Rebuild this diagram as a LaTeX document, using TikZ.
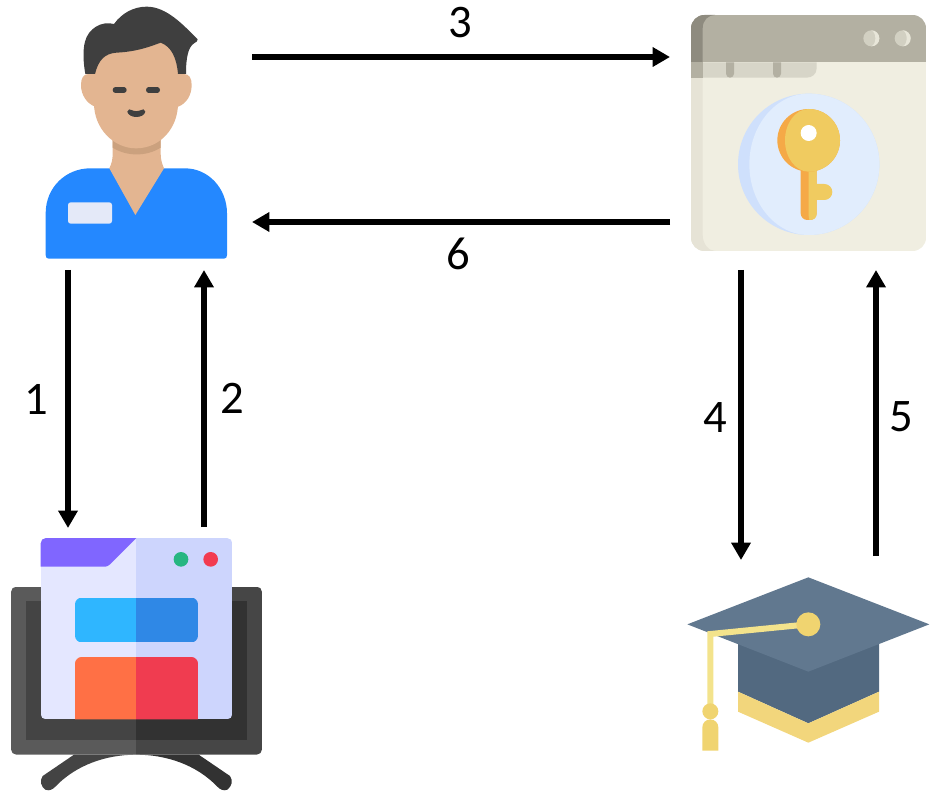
\documentclass[tikz,border=0pt]{standalone}
\usepackage{fontspec}
\setmainfont{Carlito}
\usetikzlibrary{arrows.meta}
\definecolor{skin}{HTML}{E3B591}
\definecolor{skinD}{HTML}{CBA17E}
\definecolor{hair}{HTML}{3F3F3F}
\definecolor{shirt}{HTML}{2488FF}
\definecolor{badge}{HTML}{E4E9F8}
\definecolor{kBar}{HTML}{B3B0A2}
\definecolor{kBarD}{HTML}{8E8B7F}
\definecolor{kBody}{HTML}{F0EEE1}
\definecolor{kBodyD}{HTML}{E6E3D6}
\definecolor{kTab}{HTML}{D7D5C8}
\definecolor{kBtn}{HTML}{E8E6D9}
\definecolor{kBtnD}{HTML}{D2D0C2}
\definecolor{discD}{HTML}{CFE0FC}
\definecolor{disc}{HTML}{E1EDFD}
\definecolor{keyD}{HTML}{F5A947}
\definecolor{keyL}{HTML}{F0CB60}
\definecolor{monL}{HTML}{5A5A5A}
\definecolor{monR}{HTML}{464646}
\definecolor{scrL}{HTML}{444444}
\definecolor{scrR}{HTML}{323232}
\definecolor{winL}{HTML}{E4E7FF}
\definecolor{winR}{HTML}{CDD5FD}
\definecolor{tabP}{HTML}{8066FF}
\definecolor{btnG}{HTML}{26B681}
\definecolor{btnR}{HTML}{F23B50}
\definecolor{blueL}{HTML}{2FB6FF}
\definecolor{blueR}{HTML}{2F88E6}
\definecolor{redL}{HTML}{FF7045}
\definecolor{redR}{HTML}{F03C50}
\definecolor{capTop}{HTML}{61788F}
\definecolor{capBody}{HTML}{526980}
\definecolor{capBand}{HTML}{F2D67C}
\definecolor{capCord}{HTML}{F3E38C}
\definecolor{capKnob}{HTML}{F0D470}
\tikzset{
  flow/.style={line width=4.2pt,-{Triangle[length=13pt,width=14pt]},black},
  numlabel/.style={font=\fontsize{35}{40}\selectfont,text=black,inner sep=0pt},
  icon/.style={inner sep=0pt,outer sep=0pt,draw=none,fill=none,anchor=north west},
  zoomed/.style={x=.25pt,y=-.25pt},
}
\begin{document}
\begin{tikzpicture}[x=.75pt,y=-.75pt]
\useasboundingbox (0,0) rectangle (930,791);
% ---------- person
\begin{scope}[shift={(30,0)},zoomed]
  \fill[shirt] (47,765) -- (47,640) .. controls (47,560) and (110,505) .. (180,505) -- (465,505) .. controls (535,505) and (591,565) .. (591,640) -- (591,765) .. controls (591,772) and (588,776) .. (582,776) -- (56,776) .. controls (50,776) and (47,772) .. (47,765) -- cycle;
  \fill[skin] (248,400) -- (248,460) .. controls (248,480) and (245,490) .. (238,505) -- (316,645) -- (402,505) .. controls (396,490) and (392,480) .. (392,460) -- (392,400) -- cycle;
  \fill[skinD] (248,415) -- (392,415) -- (392,443) .. controls (350,470) and (290,470) .. (248,443) -- cycle;
  \fill[skin] (175,222) .. controls (160,222) and (153,235) .. (153,255) .. controls (153,285) and (170,310) .. (195,320) -- (445,320) .. controls (470,310) and (485,285) .. (485,255) .. controls (485,235) and (478,222) .. (462,222) -- cycle;
  \fill[skin] (192,200) -- (192,310) .. controls (192,385) and (250,445) .. (318,445) .. controls (390,445) and (444,385) .. (444,310) -- (444,200) .. controls (444,150) and (400,110) .. (320,110) .. controls (240,110) and (192,150) .. (192,200) -- cycle;
  \fill[hair] (166,222) .. controls (160,190) and (158,150) .. (165,125) .. controls (175,85) and (215,62) .. (252,72) .. controls (275,40) and (310,20) .. (350,20) .. controls (410,20) and (460,75) .. (503,118) .. controls (503,124) and (498,127) .. (492,130) .. controls (475,142) and (468,170) .. (468,222) -- (444,222) .. controls (440,175) and (425,140) .. (392,128) .. controls (360,140) and (320,155) .. (260,158) .. controls (225,160) and (205,180) .. (195,222) -- cycle;
  \draw[hair,line width=4pt,line cap=round] (256,270) -- (282,270) (356,270) -- (382,270);
  \fill[hair] (292,335) .. controls (292,327) and (302,326) .. (307,331) .. controls (313,334) and (325,334) .. (331,331) .. controls (336,326) and (346,327) .. (346,335) .. controls (344,345) and (332,351) .. (319,351) .. controls (306,351) and (294,345) .. (292,335) -- cycle;
  \fill[badge,rounded corners=2pt] (114,607) rectangle (246,671);
\end{scope}
\node[icon,minimum width=137pt,minimum height=192pt] (user) at (46,7) {};
% ---------- key window
\begin{scope}[shift={(680,5)},zoomed]
  \begin{scope}
    \clip[rounded corners=10pt] (33,30) rectangle (738,738);
    \fill[kBody] (33,172) rectangle (738,738);
    \fill[kBodyD] (20,172) -- (68,172) -- (68,690) .. controls (68,715) and (85,738) .. (105,738) -- (20,738) -- cycle;
    \fill[kBar] (33,30) rectangle (738,172);
    \fill[kBarD] (20,20) -- (105,20) -- (105,30) .. controls (85,30) and (68,45) .. (68,70) -- (68,172) -- (20,172) -- cycle;
    \fill[kTab] (33,172) -- (410,172) -- (410,190) .. controls (410,208) and (395,218) .. (380,218) -- (33,218) -- cycle;
    \fill[kBar] (33,172) rectangle (68,218);
  \end{scope}
  \fill[kBar] (138,172) -- (162,172) -- (162,206) arc[start angle=0,end angle=180,radius=12] -- cycle;
  \fill[kBar] (279,172) -- (303,172) -- (303,206) arc[start angle=0,end angle=180,radius=12] -- cycle;
  \fill[kBtnD] (574,100) circle[radius=24];
  \fill[kBtn] (574,76) arc[start angle=-90,end angle=90,radius=24] .. controls (590,118) and (590,82) .. (574,76) -- cycle;
  \fill[kBtnD] (668,100) circle[radius=24];
  \fill[kBtn] (668,76) arc[start angle=-90,end angle=90,radius=24] .. controls (684,118) and (684,82) .. (668,76) -- cycle;
  \fill[discD] (386,478) circle[radius=212];
  \fill[disc] (386,266) arc[start angle=-90,end angle=90,radius=212] arc[start angle=90,end angle=270,x radius=178,y radius=212] -- cycle;
  \fill[keyD,rounded corners=5pt] (362,470) -- (410,470) -- (410,645) -- (362,645) -- cycle;
  \fill[keyL] (386,470) -- (410,470) -- (410,627) .. controls (410,638) and (402,645) .. (388,645) .. controls (386,640) and (386,632) .. (386,625) -- cycle;
  \fill[keyL] (405,537) -- (433,537) arc[start angle=-90,end angle=90,radius=24] -- (405,585) -- cycle;
  \fill[keyD] (386,406) circle[radius=94];
  \fill[keyL] (386,312) arc[start angle=-90,end angle=90,radius=94] arc[start angle=90,end angle=270,x radius=71,y radius=94] -- cycle;
  \fill[white] (386,384) circle[radius=24];
\end{scope}
\node[icon,minimum width=176pt,minimum height=177pt] (keywin) at (691,15) {};
% ---------- monitor
\begin{scope}[shift={(0,530)},zoomed]
  \fill[scrR] (409,674) -- (596,674) -- (690,738) .. controls (700,752) and (695,770) .. (682,779) .. controls (670,784) and (660,778) .. (652,770) .. controls (590,705) and (500,674) .. (409,674) -- cycle;
  \fill[scrL] (409,674) -- (222,674) -- (128,738) .. controls (118,752) and (123,770) .. (136,779) .. controls (148,784) and (158,778) .. (166,770) .. controls (228,705) and (318,674) .. (409,674) -- cycle;
  \begin{scope}
    \clip[rounded corners=4pt] (33,170) rectangle (786,674);
    \fill[monL] (33,170) rectangle (409,674);
    \fill[monR] (409,170) rectangle (786,674);
  \end{scope}
  \fill[scrL] (78,214) rectangle (409,630);
  \fill[scrR] (409,214) rectangle (741,630);
  \begin{scope}
    \clip[rounded corners=4pt] (122,24) rectangle (697,568);
    \fill[winL] (122,24) rectangle (409,568);
    \fill[winR] (409,24) rectangle (697,568);
    \fill[tabP] (122,24) -- (409,24) -- (330,103) .. controls (325,108) and (320,110) .. (315,110) -- (122,110) -- cycle;
    \begin{scope}
      \clip[rounded corners=5pt] (225,381) rectangle (594,640);
      \fill[redL] (225,381) rectangle (409,640);
      \fill[redR] (409,381) rectangle (594,640);
    \end{scope}
  \end{scope}
  \begin{scope}
    \clip[rounded corners=5pt] (225,203) rectangle (594,337);
    \fill[blueL] (225,203) rectangle (409,337);
    \fill[blueR] (409,203) rectangle (594,337);
  \end{scope}
  \fill[btnG] (543,88) circle[radius=22];
  \fill[btnR] (632,88) circle[radius=22];
\end{scope}
\node[icon,minimum width=188pt,minimum height=190pt] (monitor) at (11,538) {};
% ---------- cap
\begin{scope}[shift={(680,570)},zoomed]
  \fill[capBody] (174,200) -- (597,200) -- (597,365) -- (385,460) -- (174,365) -- cycle;
  \fill[capBand] (174,365) -- (385,460) -- (597,365) -- (597,425) -- (385,518) -- (174,425) -- cycle;
  \fill[capTop] (385,22) -- (748,163) -- (385,305) -- (22,163) -- cycle;
  \draw[capCord,line width=4.5pt,line join=miter] (385,163) -- (91,192) -- (91,410);
  \fill[capKnob] (385,163) circle[radius=36];
  \fill[capKnob] (91,424) circle[radius=24];
  \fill[capKnob] (67,542) -- (67,472) arc[start angle=180,end angle=360,radius=24] -- (115,542) -- cycle;
\end{scope}
\node[icon,minimum width=182pt,minimum height=130pt] (cap) at (687,577) {};
% ---------- connector ends
\coordinate (a1s) at (68,270);  \coordinate (a1e) at (68,528);
\coordinate (a2s) at (204,527); \coordinate (a2e) at (204,270);
\coordinate (a3s) at (252,57);  \coordinate (a3e) at (670,57);
\coordinate (a4s) at (741,270); \coordinate (a4e) at (741,560);
\coordinate (a5s) at (876,556); \coordinate (a5e) at (876,270);
\coordinate (a6s) at (670,222); \coordinate (a6e) at (252,222);
\draw[flow] (a1s) -- (a1e);
\draw[flow] (a2s) -- (a2e);
\draw[flow] (a3s) -- (a3e);
\draw[flow] (a4s) -- (a4e);
\draw[flow] (a5s) -- (a5e);
\draw[flow] (a6s) -- (a6e);
% ---------- labels
\node[numlabel] (n1) at (36,399) {1};
\node[numlabel] (n2) at (232,398) {2};
\node[numlabel] (n3) at (460,23) {3};
\node[numlabel] (n4) at (715,418) {4};
\node[numlabel] (n5) at (901,417) {5};
\node[numlabel] (n6) at (458,254) {6};
\end{tikzpicture}
\end{document}
